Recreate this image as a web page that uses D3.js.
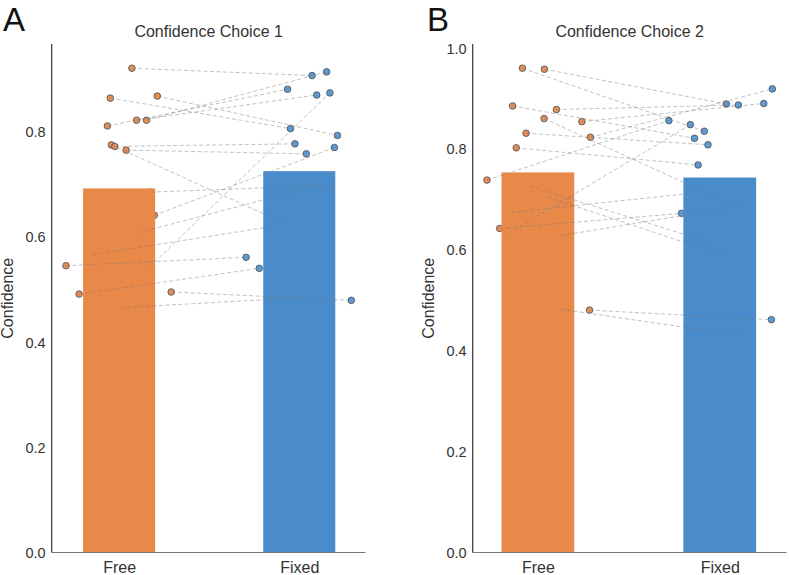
<!DOCTYPE html>
<html>
<head>
<meta charset="utf-8">
<script src="https://cdn.jsdelivr.net/npm/d3@7"></script>
<style>
  html, body { margin: 0; padding: 0; background: #fff; }
  svg { display: block; font-family: "Liberation Sans", Arial, sans-serif; }
</style>
</head>
<body>
<svg id="chart" width="789" height="575"></svg>
<script>
// ---- data ----
const categories = ["Free", "Fixed"];
const yTicksA = [0, 0.2, 0.4, 0.6, 0.8];
const yTicksB = [0, 0.2, 0.4, 0.6, 0.8, 1.0];

// Panel A: per-subject jitter (category units), Free and Fixed confidence
const jitterA = [0.071, -0.049, 0.212, 0.097, 0.152, -0.065, -0.043, -0.024, 0.039, 0.170, 0.195, 0.110, 0.174, -0.146, -0.295, -0.222, 0.289, 0.005];
const freeA   = [0.922, 0.865, 0.869, 0.823, 0.823, 0.812, 0.776, 0.773, 0.766, 0.544, 0.642, 0.609, 0.686, 0.567, 0.546, 0.492, 0.496, 0.466];
const fixedA  = [0.908, 0.807, 0.794, 0.871, 0.915, 0.882, 0.621, 0.778, 0.759, 0.875, 0.771, 0.699, 0.699, 0.621, 0.562, 0.541, 0.480, 0.485];

// Panel B
const jitterB = [-0.085, 0.036, -0.139, 0.102, 0.034, 0.242, -0.065, 0.289, -0.119, -0.280, -0.210, 0.284, -0.043, 0.049, -0.149, -0.162, 0.127, 0.125];
const freeB   = [0.961, 0.959, 0.886, 0.879, 0.861, 0.855, 0.832, 0.824, 0.803, 0.739, 0.643, 0.481, 0.727, 0.706, 0.675, 0.633, 0.629, 0.483];
const fixedB  = [0.836, 0.890, 0.822, 0.888, 0.696, 0.891, 0.809, 0.920, 0.769, 0.857, 0.673, 0.462, 0.614, 0.586, 0.713, 0.849, 0.688, 0.430];

const colors = { bar: ["#E8894A", "#4A8BCB"], pt: ["#E39058", "#5E9BD6"] };

const svg = d3.select("#chart");

function panel(opts) {
  const { x0, x1, top, bottom, jitter, free, fixed, ticks, title, letter, letterX, ylabX } = opts;
  const g = svg.append("g");
  const series = [free, fixed];
  const ext = d3.extent([...jitter, ...jitter.map(j => j + 1)]);
  const pad = (ext[1] - ext[0]) * 0.05;
  const x = d3.scaleLinear().domain([ext[0] - pad, ext[1] + pad]).range([x0, x1]);
  const ymax = d3.max([...free, ...fixed]) * 1.05;
  const y = d3.scaleLinear().domain([0, ymax]).range([bottom, top]);

  // points (drawn beneath bars)
  series.forEach((vals, ci) => {
    g.append("g").selectAll("circle").data(vals).join("circle")
      .attr("cx", (d, i) => x(ci + jitter[i]))
      .attr("cy", d => y(d))
      .attr("r", 3.3)
      .attr("fill", colors.pt[ci])
      .attr("stroke", "#4a4a4a")
      .attr("stroke-width", 0.8);
  });

  // bars (means)
  const bw = 0.4;
  g.append("g").selectAll("rect").data(series).join("rect")
    .attr("x", (d, ci) => x(ci - bw / 2))
    .attr("width", (d, ci) => x(ci + bw / 2) - x(ci - bw / 2))
    .attr("y", d => y(d3.mean(d)))
    .attr("height", d => bottom - y(d3.mean(d)))
    .attr("fill", (d, ci) => colors.bar[ci]);

  // paired lines (on top)
  g.append("g").selectAll("line").data(free).join("line")
    .attr("x1", (d, i) => x(0 + jitter[i]))
    .attr("y1", d => y(d))
    .attr("x2", (d, i) => x(1 + jitter[i]))
    .attr("y2", (d, i) => y(fixed[i]))
    .attr("stroke", "#777")
    .attr("stroke-opacity", 0.45)
    .attr("stroke-width", 1)
    .attr("stroke-dasharray", "4,2.5");

  // y axis
  const ya = g.append("g").attr("transform", `translate(${x0},0)`)
    .call(d3.axisLeft(y).tickValues(ticks).tickFormat(d3.format(".1f")).tickSize(0).tickPadding(6));
  ya.select(".domain").remove();
  ya.selectAll("text").attr("font-size", 14.5).attr("fill", "#333").attr("font-family", "Liberation Sans, Arial, sans-serif");
  g.append("line").attr("x1", x0).attr("x2", x0).attr("y1", top).attr("y2", bottom)
    .attr("stroke", "#333").attr("stroke-width", 1.2);

  // x axis
  const xa = g.append("g").attr("transform", `translate(0,${bottom})`)
    .call(d3.axisBottom(x).tickValues([0, 1]).tickFormat(i => categories[i]).tickSize(0).tickPadding(9));
  xa.select(".domain").remove();
  xa.selectAll("text").attr("font-size", 16).attr("fill", "#333").attr("font-family", "Liberation Sans, Arial, sans-serif");
  g.append("line").attr("x1", x0).attr("x2", x1).attr("y1", bottom).attr("y2", bottom)
    .attr("stroke", "#777").attr("stroke-width", 1.2);

  // titles / labels
  g.append("text").attr("x", (x0 + x1) / 2).attr("y", 37).attr("text-anchor", "middle")
    .attr("font-size", 16).attr("fill", "#333").text(title);
  g.append("text").attr("x", letterX).attr("y", 31).attr("text-anchor", "middle")
    .attr("font-size", 33).attr("fill", "#111").text(letter);
  g.append("text").attr("transform", `translate(${ylabX},${(top + bottom) / 2}) rotate(-90)`)
    .attr("text-anchor", "middle").attr("font-size", 16).attr("fill", "#333").text("Confidence");
}

panel({ x0: 51.7, x1: 365.6, top: 44, bottom: 552.5, jitter: jitterA, free: freeA, fixed: fixedA,
        ticks: yTicksA, title: "Confidence Choice 1", letter: "A", letterX: 14, ylabX: 13 });
panel({ x0: 472.7, x1: 786.6, top: 44, bottom: 552.5, jitter: jitterB, free: freeB, fixed: fixedB,
        ticks: yTicksB, title: "Confidence Choice 2", letter: "B", letterX: 438, ylabX: 434 });
</script>
</body>
</html>
